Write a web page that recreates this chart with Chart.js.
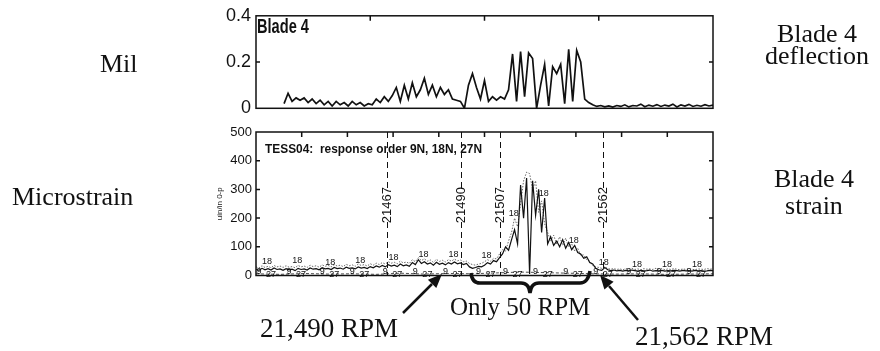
<!DOCTYPE html>
<html>
<head>
<meta charset="utf-8">
<script src="https://cdn.jsdelivr.net/npm/chart.js@4.4.1/dist/chart.umd.min.js"></script>
<style>
  body { margin: 0; background: #fff; }
  #wrap { position: relative; width: 880px; height: 351px; overflow: hidden; }
  canvas { position: absolute; left: 0; }
  #milChart { top: 0; }
  #strainChart { top: 118px; }
  svg { position: absolute; left: 0; top: 0; }
  svg text { font-family: "Liberation Serif", "Times New Roman", serif; fill: #111; }
</style>
</head>
<body>
<div id="wrap">
  <canvas id="milChart" width="880" height="125"></canvas>
  <canvas id="strainChart" width="880" height="233"></canvas>
  <svg width="880" height="351">
    <text x="100" y="72" font-size="26">Mil</text>
    <text x="12" y="205" font-size="26">Microstrain</text>
    <text x="817" y="42" font-size="26" text-anchor="middle">Blade 4</text>
    <text x="817" y="64" font-size="26" text-anchor="middle">deflection</text>
    <text x="814" y="187" font-size="26" text-anchor="middle">Blade 4</text>
    <text x="814" y="214" font-size="26" text-anchor="middle">strain</text>
    <text x="450" y="315" font-size="25">Only 50 RPM</text>
    <text x="260" y="337" font-size="27">21,490 RPM</text>
    <text x="635" y="345" font-size="27">21,562 RPM</text>
    <!-- flechas y llave -->
    <line x1="403" y1="313" x2="432" y2="284" stroke="#111" stroke-width="2.5"/>
    <polygon points="442,274 436.3,288.1 427.9,279.7" fill="#111"/>
    <line x1="638" y1="320" x2="609" y2="286" stroke="#111" stroke-width="2.5"/>
    <polygon points="600,275 613.6,281.8 604.4,289.6" fill="#111"/>
    <path d="M471,273 Q472,283 480,283 L521,283 Q529,283 530,293 Q531,283 539,283 L580,283 Q588,283 590,271"
          fill="none" stroke="#111" stroke-width="3.5"/>
  </svg>
</div>
<script>
// Blade 4 deflection (mil), una muestra cada 4 px del barrido
var milValues = [
  null, null, null, null, null, null, null,
  0.02, 0.065, 0.03, 0.045, 0.035, 0.045, 0.025, 0.04, 0.02, 0.035,
  0.015, 0.03, 0.01, 0.03, 0.015, 0.025, 0.01, 0.03, 0.015, 0.025,
  0.01, 0.02, 0.015, 0.04, 0.025, 0.05, 0.03, 0.055, 0.09, 0.03,
  0.1, 0.04, 0.11, 0.05, 0.08, 0.13, 0.06, 0.1, 0.05, 0.09,
  0.06, 0.08, 0.04, 0.035, 0.03, 0.0, 0.1, 0.15, 0.09, 0.04,
  0.12, 0.03, 0.05, 0.035, 0.05, 0.04, 0.08, 0.235, 0.03, 0.245,
  0.05, 0.24, 0.215, 0.0, 0.1, 0.19, 0.01, 0.18, 0.15, 0.19,
  0.02, 0.255, 0.03, 0.25, 0.2, 0.04, 0.025, 0.015,
  0.008, 0.012, 0.006, 0.01, 0.005, 0.012, 0.008, 0.015, 0.006, 0.012,
  0.01, 0.018, 0.007, 0.014, 0.009, 0.016, 0.008, 0.014, 0.01, 0.018,
  0.006, 0.015, 0.01, 0.017, 0.008, 0.013, 0.009, 0.016, 0.01, 0.014
];
var milTickLabels = { 0: "0", 0.2: "0.2", 0.4: "0.4" };

// Blade 4 strain (uin/in 0-p), una muestra cada 3 px del barrido
var strain9N = [
  22, 18, 25, 20, 24, 19, 26, 21, 23, 18, 24, 20, 22, 17, 25, 21, 23, 19, 26, 22,
  24, 20, 27, 23, 25, 21, 28, 24, 26, 22, 29, 25, 27, 23, 30, 26, 28, 24, 31, 27,
  33, 29,
  35, 30, 38, 33, 36, 31, 40, 34, 37, 32, 45, 38, 55, 42, 48, 40, 44, 36, 46, 39,
  43, 37, 45, 40, 47, 41, 44, 38, 42, 30,
  25, 28, 32, 30, 36, 45, 40, 52, 48, 62,
  75, 100, 88, 125, 160, 110, 315, 200, 340, 5, 330, 210, 300, 150, 270, 110,
  135, 105, 120, 100, 125, 95, 115, 90, 105, 80, 75, 60, 65, 45, 40, 25, 20, 18, 28, 20,
  17, 19, 16, 18, 15, 18, 16, 19, 17, 15, 18, 16, 17, 19, 15, 17, 16, 18, 15, 17,
  16, 18, 17, 15, 18, 16, 17, 15, 18, 16, 17, 15, 16, 18, 17
];
var strain18N = [
  30, 26, 34, 28, 32, 27, 35, 30, 33, 28, 34, 29, 31, 27, 35, 30, 33, 28, 36, 31,
  34, 29, 37, 32, 35, 30, 38, 33, 36, 31, 39, 34, 37, 32, 40, 35, 38, 33, 41, 36,
  43, 38,
  45, 40, 48, 43, 46, 41, 50, 44, 47, 42, 55, 48, 62, 52, 58, 50, 54, 46, 56, 49,
  53, 47, 55, 50, 57, 51, 54, 48, 50, 42,
  38, 36, 40, 42, 48, 55, 50, 60, 58, 75,
  90, 85, 120, 150, 200, 170, 250, 330, 360, 355, 300, 330, 220, 260, 180, 150,
  120, 140, 110, 135, 105, 130, 100, 110, 85, 95, 70, 72, 55, 50, 35, 30, 28, 25, 30, 24,
  22, 24, 21, 23, 20, 24, 22, 25, 21, 23, 20, 24, 22, 23, 21, 25, 22, 24, 20, 23,
  21, 24, 22, 20, 23, 21, 24, 22, 20, 23, 22, 21, 24, 22, 23
];
var order27X = [0, 8, 16, 24, 32, 40, 48, 56, 64, 72, 80, 88, 96, 104, 112, 120, 128, 136, 144, 152];
var order27Y = [6, 4, 7, 5, 6, 4, 8, 5, 7, 6, 9, 12, 10, 8, 6, 5, 6, 4, 5, 6];

// marcas de velocidad (posición en muestras) y sus RPM
var rpmMarkIdx = [43.7, 68.3, 81.3, 115.5];
var rpmMarkText = ["21467", "21490", "21507", "21562"];
// etiquetas de orden 9 / 18 / 27 a lo largo del eje
var orderMarkIdx = [1, 11, 22, 32, 43, 53, 63, 74, 83, 93, 103, 113, 124, 134, 144];

function toPoints(values) {
  return values.map(function (v, i) { return { x: i, y: v }; });
}

// marco estilo MATLAB con marcas hacia dentro
function frameTicks(xTicks, yTicks) {
  return {
    id: "frameTicks",
    afterDatasetsDraw: function (chart) {
      var ctx = chart.ctx, a = chart.chartArea;
      var xs = chart.scales.x, ys = chart.scales.y;
      ctx.save();
      ctx.strokeStyle = "#111";
      ctx.lineWidth = 1.5;
      ctx.strokeRect(a.left, a.top, a.right - a.left, a.bottom - a.top);
      ctx.beginPath();
      xTicks.forEach(function (v) {
        var px = xs.getPixelForValue(v);
        ctx.moveTo(px, a.top);
        ctx.lineTo(px, a.top + 5);
      });
      yTicks.forEach(function (v) {
        var py = ys.getPixelForValue(v);
        ctx.moveTo(a.left, py);
        ctx.lineTo(a.left + 4, py);
        ctx.moveTo(a.right, py);
        ctx.lineTo(a.right - 4, py);
      });
      ctx.stroke();
      ctx.restore();
    }
  };
}

function cornerTitle(text, font, dx, dy, maxWidth) {
  return {
    id: "cornerTitle",
    afterDatasetsDraw: function (chart) {
      var ctx = chart.ctx, a = chart.chartArea;
      ctx.save();
      ctx.fillStyle = "#111";
      ctx.font = font;
      ctx.textBaseline = "alphabetic";
      ctx.fillText(text, a.left + dx, a.top + dy, maxWidth);
      ctx.restore();
    }
  };
}

var rpmMarkers = {
  id: "rpmMarkers",
  afterDatasetsDraw: function (chart) {
    var ctx = chart.ctx, a = chart.chartArea;
    var xs = chart.scales.x, ys = chart.scales.y;
    ctx.save();
    ctx.strokeStyle = "#111";
    ctx.lineWidth = 1;
    ctx.setLineDash([6, 4]);
    rpmMarkIdx.forEach(function (v) {
      var px = Math.round(xs.getPixelForValue(v)) + 0.5;
      ctx.beginPath();
      ctx.moveTo(px, a.top);
      ctx.lineTo(px, a.bottom);
      ctx.stroke();
    });
    ctx.setLineDash([]);
    ctx.font = "13px 'Liberation Sans Narrow', 'Liberation Sans', sans-serif";
    ctx.textAlign = "center";
    ctx.textBaseline = "middle";
    rpmMarkIdx.forEach(function (v, i) {
      var px = xs.getPixelForValue(v);
      var py = ys.getPixelForValue(245);
      ctx.save();
      ctx.translate(px, py);
      ctx.rotate(-Math.PI / 2);
      ctx.fillStyle = "#fff";
      ctx.fillRect(-16, -4, 32, 8);
      ctx.fillStyle = "#111";
      ctx.fillText(rpmMarkText[i], 0, 0);
      ctx.restore();
    });
    // etiquetas de orden
    ctx.font = "9px 'Liberation Sans Narrow', 'Liberation Sans', sans-serif";
    ctx.textAlign = "center";
    ctx.textBaseline = "alphabetic";
    ctx.fillStyle = "#111";
    var y0 = ys.getPixelForValue(0);
    orderMarkIdx.forEach(function (v) {
      ctx.fillText("9", xs.getPixelForValue(v), y0 - 2);
      ctx.fillText("27", xs.getPixelForValue(v + 4), y0 + 1.5);
      var k = Math.round(v + 2.7);
      var top = Math.max(strain9N[k], strain18N[k]);
      ctx.fillText("18", xs.getPixelForValue(v + 2.7), ys.getPixelForValue(top) - 2);
    });
    ctx.restore();
  }
};

var tickFontTop = { family: "'Liberation Sans Narrow', 'Liberation Sans', sans-serif", size: 18 };
var tickFontBottom = { family: "'Liberation Sans Narrow', 'Liberation Sans', sans-serif", size: 13 };

var milN = milValues.length - 1;
new Chart(document.getElementById("milChart"), {
  type: "line",
  data: {
    datasets: [{
      label: "Blade 4",
      data: toPoints(milValues),
      borderColor: "#111",
      borderWidth: 1.7,
      pointRadius: 0,
      tension: 0,
      spanGaps: false
    }]
  },
  options: {
    responsive: false,
    animation: false,
    layout: { padding: { left: 212, right: 167, top: 15.7, bottom: 16.7 } },
    scales: {
      x: { type: "linear", min: 0, max: milN, display: false },
      y: {
        min: 0, max: 0.4,
        grid: { display: false, drawTicks: false },
        border: { display: false },
        ticks: {
          stepSize: 0.2, padding: 5, color: "#111", font: tickFontTop,
          callback: function (v) { return milTickLabels[v]; }
        },
        afterFit: function (s) { s.width = 44; }
      }
    },
    plugins: { legend: { display: false }, tooltip: { enabled: false } }
  },
  plugins: [
    frameTicks([milN / 4, milN / 2, milN * 3 / 4], [0.2]),
    cornerTitle("Blade 4", "bold 20px 'Liberation Sans', sans-serif", 1, 17, 52)
  ]
});

var strainN = strain9N.length - 1;
var strainXTicks = [];
for (var k = 1; k < 10; k++) strainXTicks.push(strainN * k / 10);

new Chart(document.getElementById("strainChart"), {
  type: "line",
  data: {
    datasets: [
      {
        label: "9N",
        data: toPoints(strain9N),
        borderColor: "#111",
        borderWidth: 1.2,
        pointRadius: 0,
        tension: 0
      },
      {
        label: "18N",
        data: toPoints(strain18N),
        borderColor: "#666",
        borderWidth: 1,
        borderDash: [1.5, 1.5],
        pointRadius: 0,
        tension: 0
      },
      {
        label: "27N",
        data: order27X.map(function (x, i) { return { x: x, y: order27Y[i] }; }),
        borderColor: "#222",
        borderWidth: 0.8,
        borderDash: [3, 2],
        pointRadius: 0,
        tension: 0
      }
    ]
  },
  options: {
    responsive: false,
    animation: false,
    layout: { padding: { left: 212, right: 167, top: 14, bottom: 75.5 } },
    scales: {
      x: { type: "linear", min: 0, max: strainN, display: false },
      y: {
        min: 0, max: 500,
        grid: { display: false, drawTicks: false },
        border: { display: false },
        title: {
          display: true, text: "uin/in 0-p", color: "#222",
          font: { family: "'Liberation Sans', sans-serif", size: 8 },
          padding: { top: 3, bottom: 0 }
        },
        ticks: { stepSize: 100, padding: 4, color: "#111", font: tickFontBottom },
        afterFit: function (s) { s.width = 44; }
      }
    },
    plugins: { legend: { display: false }, tooltip: { enabled: false } }
  },
  plugins: [
    rpmMarkers,
    frameTicks(strainXTicks, [100, 200, 300, 400]),
    cornerTitle("TESS04:  response order 9N, 18N, 27N", "bold 13px 'Liberation Sans', sans-serif", 9, 21, 217)
  ]
});
</script>
</body>
</html>
